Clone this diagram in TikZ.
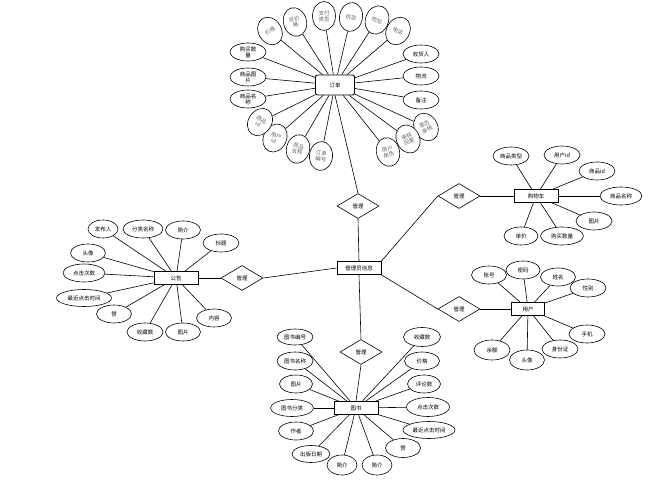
\documentclass[tikz,border=0pt]{standalone}
\usepackage{fontspec}
\setmainfont{Noto Sans CJK SC}
\usetikzlibrary{positioning, shapes.geometric}
\tikzset{
  attr/.style={ellipse, draw, line width=0.6pt, fill=white, inner sep=0pt, align=center,
    minimum width=36, minimum height=18, font=\fontsize{5.5}{6}\selectfont},
  tallattr/.style={ellipse, draw, line width=0.6pt, fill=white, inner sep=0pt, align=center,
    minimum width=23, minimum height=29, text=black!60, font=\fontsize{5.5}{6}\selectfont},
  entity/.style={rectangle, draw, line width=0.9pt, fill=white, inner sep=1pt,
    minimum width=44, minimum height=13, font=\fontsize{5.5}{6}\selectfont},
  relbox/.style={diamond, draw, line width=0.6pt, fill=white, inner sep=0pt,
    minimum width=42, minimum height=25, font=\fontsize{5.5}{6}\selectfont},
  link/.style={line width=0.6pt}
}
\begin{document}
\begin{tikzpicture}[x=1pt, y=-1pt]
  \useasboundingbox[fill=white] (0,0) rectangle (672,486);

  % centre
  \node[entity] (adm) at (359,268) {管理员信息};
  \node[relbox] (relOrd) at (358,206) {管理};
  \node[relbox] (relNotice) at (242,278) {管理};
  \node[relbox] (relCart) at (459,196) {管理};
  \node[relbox] (relUser) at (459,309) {管理};
  \node[relbox] (relBook) at (361,352) {管理};

  % order
  \node[entity, rounded corners=2pt, minimum width=39, minimum height=20] (ord) at (335,85) {订单};
  \node[tallattr, rotate=30]  (ordJg)   at (270,31)  {价格};
  \node[tallattr, rotate=15]  (ordZjg)  at (295,22)  {总价\\格};
  \node[tallattr]             (ordZflx) at (324,16)  {支付\\类型};
  \node[tallattr, rotate=-10] (ordZt)   at (351,17)  {状态};
  \node[tallattr, rotate=-20] (ordDz)   at (377,20)  {地址};
  \node[tallattr, rotate=-30] (ordDh)   at (398,31)  {电话};
  \node[attr] (ordShr) at (421,54)  {收货人};
  \node[attr] (ordWl)  at (421,76)  {物流};
  \node[attr] (ordBz)  at (421,100) {备注};
  \node[tallattr, rotate=30]  (ordSfsh) at (426,127) {是否\\审核};
  \node[tallattr, rotate=25]  (ordShhf) at (408,139) {审核\\回复};
  \node[tallattr, rotate=15]  (ordYhjs) at (388,152) {用户\\角色};
  \node[tallattr, rotate=-5]  (ordDdbh) at (321,156) {订单\\编号};
  \node[tallattr, rotate=-15] (ordSpmcb) at (298,149) {商品\\名称};
  \node[tallattr, rotate=-25] (ordYhid) at (275,138) {用户\\id};
  \node[tallattr, rotate=-35] (ordSpid) at (260,122) {商品\\id};
  \node[attr] (ordSpmc) at (248,99) {商品名\\称};
  \node[attr] (ordSptp) at (248,77) {商品图\\片};
  \node[attr] (ordGmsl) at (248,52) {购买数\\量};
  \foreach \n in {ordJg, ordZjg, ordZflx, ordZt, ordDz, ordDh, ordShr, ordWl, ordBz,
                  ordSfsh, ordShhf, ordYhjs, ordDdbh, ordSpmcb, ordYhid, ordSpid,
                  ordSpmc, ordSptp, ordGmsl}
    \draw[link] (ord) -- (\n);

  % cart
  \node[entity] (cart) at (536,196) {购物车};
  \node[attr] (cartSplx) at (511,156) {商品类型};
  \node[attr] (cartYhid) at (562,155) {用户id};
  \node[attr] (cartSpid) at (597,171) {商品id};
  \node[attr, minimum width=42] (cartSpmc) at (621,196) {商品名称};
  \node[attr] (cartTp)   at (594,221) {图片};
  \node[attr, minimum width=34] (cartDj) at (521,236) {单价};
  \node[attr, minimum width=43] (cartGmsl) at (562,236) {购买数量};
  \foreach \n in {cartSplx, cartYhid, cartSpid, cartSpmc, cartTp, cartDj, cartGmsl}
    \draw[link] (cart) -- (\n);

  % notice
  \node[entity] (gg) at (176,278) {公告};
  \node[attr, minimum width=30] (ggFbr)  at (103,229) {发布人};
  \node[attr, minimum width=40] (ggFlmc) at (143,229) {分类名称};
  \node[attr, minimum width=35] (ggJj)   at (183,230) {简介};
  \node[attr] (ggBt)   at (221,243) {标题};
  \node[attr, minimum width=35] (ggTx)   at (88,253)  {头像};
  \node[attr, minimum width=42] (ggDjcs) at (84,273)  {点击次数};
  \node[attr, minimum width=55, minimum height=17] (ggZjdj) at (84,298) {最近点击时间};
  \node[attr, minimum width=35] (ggZan)  at (114,314) {赞};
  \node[attr] (ggScs)  at (145,332) {收藏数};
  \node[attr, minimum width=35] (ggTp)   at (183,332) {图片};
  \node[attr, minimum width=35] (ggNr)   at (214,318) {内容};
  \foreach \n in {ggFbr, ggFlmc, ggJj, ggBt, ggTx, ggDjcs, ggZjdj, ggZan, ggScs, ggTp, ggNr}
    \draw[link] (gg) -- (\n);

  % user
  \node[entity, minimum width=33] (yh) at (528,309) {用户};
  \node[attr, minimum width=35] (yhZh)  at (489,275) {账号};
  \node[attr, minimum width=34] (yhMm)  at (523,270) {密码};
  \node[attr, minimum width=35] (yhXm)  at (558,277) {姓名};
  \node[attr] (yhXb)  at (588,288) {性别};
  \node[attr] (yhSj)  at (587,334) {手机};
  \node[attr] (yhSfz) at (560,349) {身份证};
  \node[attr, minimum width=35, minimum height=20] (yhTx) at (527,360) {头像};
  \node[attr, minimum height=20] (yhYe) at (492,350) {余额};
  \foreach \n in {yhZh, yhMm, yhXm, yhXb, yhSj, yhSfz, yhTx, yhYe}
    \draw[link] (yh) -- (\n);

  % book
  \node[entity] (ts) at (356,408) {图书};
  \node[attr, minimum height=16] (tsBh)   at (295,337) {图书编号};
  \node[attr] (tsMc)   at (295,361) {图书名称};
  \node[attr, minimum width=33] (tsTp)   at (296,384) {图片};
  \node[attr, minimum width=43, minimum height=17] (tsFl) at (292,408) {图书分类};
  \node[attr, minimum width=35] (tsZz)   at (296,431) {作者};
  \node[attr, minimum width=38, minimum height=17] (tsCbrq) at (311,454) {出版日期};
  \node[attr, minimum width=30, minimum height=20] (tsJja) at (342,465) {简介};
  \node[attr, minimum width=30, minimum height=20] (tsJjb) at (377,465) {简介};
  \node[attr, minimum width=35, minimum height=19] (tsZan) at (403,448) {赞};
  \node[attr, minimum width=52, minimum height=17] (tsZjdj) at (429,430) {最近点击时间};
  \node[attr, minimum width=43, minimum height=19] (tsDjcs) at (428,407) {点击次数};
  \node[attr, minimum width=33] (tsPls)  at (424,384) {评论数};
  \node[attr, minimum width=35] (tsJg)   at (422,361) {价格};
  \node[attr, minimum width=37, minimum height=19] (tsScs) at (422,337) {收藏数};
  \foreach \n in {tsBh, tsMc, tsTp, tsFl, tsZz, tsCbrq, tsJja, tsJjb, tsZan, tsZjdj,
                  tsDjcs, tsPls, tsJg, tsScs}
    \draw[link] (ts) -- (\n);

  % relations
  \draw[link] (ord.south) -- (relOrd.north);
  \draw[link] (relOrd.south) -- (adm.north);
  \draw[link] (gg.east) -- (relNotice.west);
  \draw[link] (relNotice.east) -- (adm.west);
  \draw[link] (adm.north east) -- (relCart.west);
  \draw[link] (relCart.east) -- (cart.west);
  \draw[link] (adm.south east) -- (relUser.west);
  \draw[link] (relUser.east) -- (yh.west);
  \draw[link] (adm.south) -- (relBook.north);
  \draw[link] (relBook.south) -- (ts.north);
\end{tikzpicture}
\end{document}
